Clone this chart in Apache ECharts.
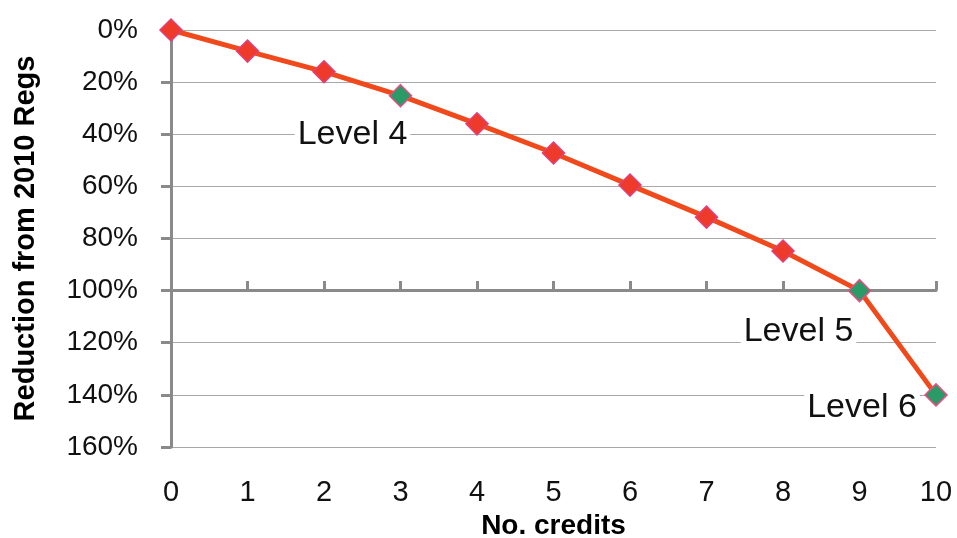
<!DOCTYPE html>
<html>
<head>
<meta charset="utf-8">
<script src="https://cdn.jsdelivr.net/npm/echarts@6/dist/echarts.min.js"></script>
<style>html,body{margin:0;padding:0;background:#fff}#c{width:957px;height:538px}</style>
</head>
<body>
<div id="c"></div>
<script>
var credits = ['0','1','2','3','4','5','6','7','8','9','10'];
var reduction = [0, 0.081, 0.16, 0.252, 0.36, 0.472, 0.595, 0.718, 0.848, 1.00, 1.40];
var levelIdx = [3, 9, 10];
var levelNames = ['Level 4', 'Level 5', 'Level 6'];
var yTicks = ['0%','20%','40%','60%','80%','100%','120%','140%','160%'];

var regular = '"Liberation Sans",Arial,sans-serif';
var labelOffsets = [[-48, 39], [-61, 41], [-74, 13]];

var data = reduction.map(function (v, i) {
  var k = levelIdx.indexOf(i);
  var item = { value: v };
  if (k >= 0) {
    item.itemStyle = { color: '#2a9a66', borderColor: '#e05080', borderWidth: 1.5 };
    item.label = {
      show: true,
      formatter: levelNames[k],
      position: 'inside',
      offset: labelOffsets[k],
      fontFamily: regular,
      fontSize: 34,
      color: '#111',
      backgroundColor: '#fff',
      padding: [0, 3]
    };
  }
  return item;
});

var chart = echarts.init(document.getElementById('c'), null, { renderer: 'canvas' });
chart.setOption({
  animation: false,
  backgroundColor: '#fff',
  grid: { left: 171, right: 21, top: 30, bottom: 91, containLabel: false, outerBoundsMode: 'none' },
  xAxis: [{
    type: 'category',
    data: credits,
    boundaryGap: false,
    axisLine: { show: false },
    axisTick: { show: false },
    axisLabel: { fontFamily: regular, fontSize: 29, color: '#111', margin: 31 },
    name: 'No. credits',
    nameLocation: 'middle',
    nameGap: 63,
    nameTextStyle: { fontFamily: regular, fontWeight: 'bold', fontSize: 28, color: '#000' },
    splitLine: { show: false }
  }, {
    type: 'category',
    data: credits,
    boundaryGap: false,
    position: 'bottom',
    offset: -157,
    axisLine: { show: true, onZero: false, lineStyle: { color: '#8a8a8a', width: 3 } },
    axisTick: { show: true, inside: true, length: 9, lineStyle: { color: '#8a8a8a', width: 3 } },
    axisLabel: { show: false },
    splitLine: { show: false }
  }],
  yAxis: {
    type: 'value',
    inverse: true,
    min: 0,
    max: 1.6,
    interval: 0.2,
    axisLine: { show: true, onZero: false, lineStyle: { color: '#8a8a8a', width: 3 } },
    axisTick: { show: true, length: 10, lineStyle: { color: '#8a8a8a', width: 3 } },
    axisLabel: {
      fontFamily: regular, fontSize: 28, color: '#111', margin: 33,
      formatter: function (v) { return yTicks[Math.round(v / 0.2)]; }
    },
    splitLine: { show: true, lineStyle: { color: '#a8a8a8', width: 1.2 } },
    name: 'Reduction from 2010 Regs',
    nameLocation: 'middle',
    nameGap: 131,
    nameRotate: 90,
    nameTextStyle: { fontFamily: regular, fontWeight: 'bold', fontSize: 29, color: '#000' }
  },
  series: [{
    type: 'line',
    xAxisIndex: 0,
    data: data,
    symbol: 'diamond',
    symbolSize: 22,
    lineStyle: { color: '#f04a1c', width: 5 },
    itemStyle: { color: '#ee3a2a', borderColor: '#e0407a', borderWidth: 1.5 },
    z: 5
  }]
});
</script>
</body>
</html>
